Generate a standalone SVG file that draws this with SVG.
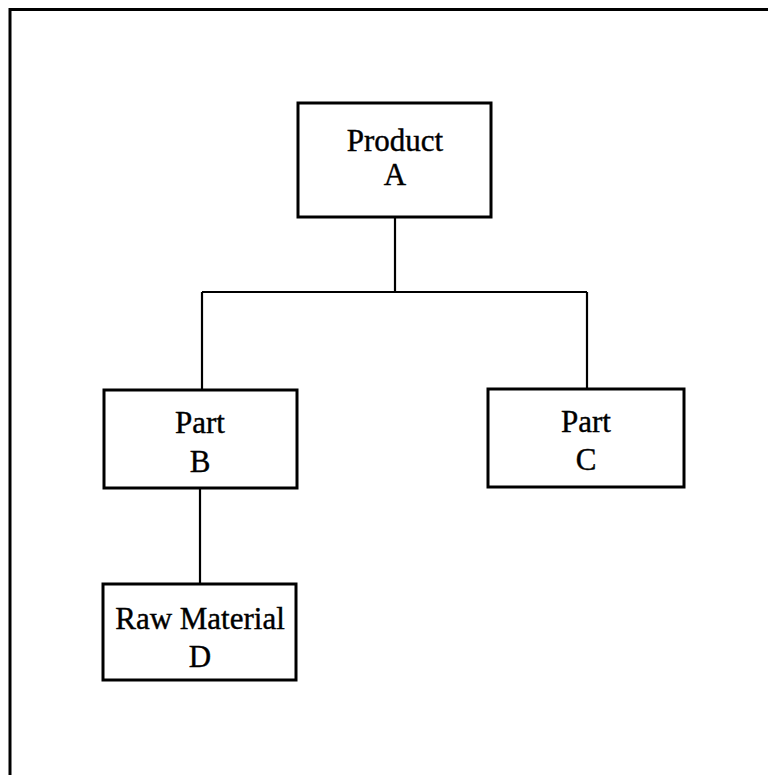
<svg xmlns="http://www.w3.org/2000/svg" width="768" height="775" viewBox="0 0 768 775">
<style>
.box{fill:#fff;stroke:#000;stroke-width:3}
.lbl{font-family:"Liberation Serif","Times New Roman",serif;font-size:31px;fill:#000;stroke:#000;stroke-width:0.4;text-anchor:middle}
.ln{stroke:#000;stroke-width:2.2;fill:none}
</style>
<rect width="768" height="775" fill="#fff"/>
<path d="M10,775 V9.5 H768" fill="none" stroke="#000" stroke-width="3"/>
<g id="connectors">
<path class="ln" d="M395,217 V292"/>
<path class="ln" d="M202,292 H587"/>
<path class="ln" d="M202,292 V390"/>
<path class="ln" d="M587,292 V389"/>
<path class="ln" d="M200,488 V584"/>
</g>
<g id="nodeA">
<rect class="box" x="298" y="103" width="193" height="114"/>
<text class="lbl" x="395" y="151">Product</text>
<text class="lbl" x="395" y="185">A</text>
</g>
<g id="nodeB">
<rect class="box" x="104" y="390" width="193" height="98"/>
<text class="lbl" x="200" y="433">Part</text>
<text class="lbl" x="200" y="472">B</text>
</g>
<g id="nodeC">
<rect class="box" x="488" y="389" width="196" height="98"/>
<text class="lbl" x="586" y="432">Part</text>
<text class="lbl" x="586" y="470">C</text>
</g>
<g id="nodeD">
<rect class="box" x="103" y="584" width="193" height="96"/>
<text class="lbl" x="200" y="629">Raw Material</text>
<text class="lbl" x="200" y="667">D</text>
</g>
</svg>
